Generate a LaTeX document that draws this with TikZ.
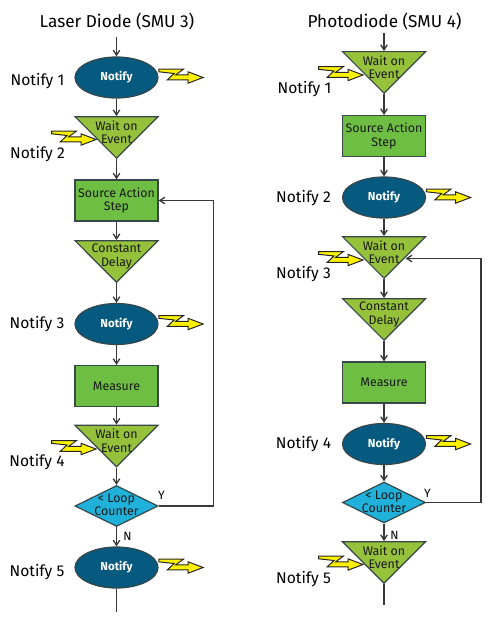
\documentclass[tikz,border=0pt]{standalone}
\usepackage{fontspec}
\setmainfont{Fira Sans}
\usepackage{xcolor}
\usetikzlibrary{positioning,arrows.meta,shapes.geometric,calc}
\definecolor{notifyblue}{HTML}{06597F}
\definecolor{waitgreen}{HTML}{96C13B}
\definecolor{stepgreen}{HTML}{6FBE44}
\definecolor{loopblue}{HTML}{1FB1D9}
\definecolor{edgegray}{HTML}{37474A}

\begin{document}
\begin{tikzpicture}[x=1pt,y=-1pt,>=Latex,line width=1.2pt,
  font=\fontsize{12.4}{13.4}\selectfont,
  flow/.style={draw=black!78,line width=1.3pt,-{Straight Barb[length=5pt,width=6.5pt]}},
  coltitle/.style={font=\fontsize{17.2}{18}\selectfont,inner sep=0pt},
  tag/.style={font=\fontsize{15.6}{18}\selectfont,inner sep=0pt},
  small/.style={font=\fontsize{12}{12}\selectfont,inner sep=0pt},
  notifybox/.style={ellipse,draw=edgegray,fill=notifyblue,text=white,font=\fontsize{11.5}{14}\selectfont\bfseries,minimum width=83pt,minimum height=41pt,inner sep=0pt},
  stepbox/.style={rectangle,draw=edgegray,fill=stepgreen,text=black!90,align=center,minimum width=83pt,minimum height=41pt,inner sep=0pt},
  inner/.style={text=black!90,align=center,inner sep=0pt},
  waitbox/.style={isosceles triangle,isosceles triangle apex angle=90,shape border rotate=-90,draw=edgegray,fill=waitgreen,minimum width=83pt,minimum height=41pt,inner sep=0pt,anchor=apex,
    label={[inner,yshift=1.5pt]center:{#1}}},
  loopbox/.style={diamond,draw=edgegray,fill=loopblue,minimum width=83pt,minimum height=41pt,inner sep=0pt,
    label={[inner,yshift=1pt]center:{#1}}},
  bolt/.pic={\draw[draw=black!85,fill=yellow,line width=1pt,line join=miter]
    (-44.3,-8.3) -- (-19.7,-8.3) -- (-27.3,-2.7) -- (-15,-2.7) -- (-15,-5.7) -- (0,0)
    -- (-15,5.7) -- (-15,2.3) -- (-35.7,2.3) -- (-29,-4) -- (-44.3,-5.7) -- cycle;}]
\useasboundingbox (0,0) rectangle (491,626);
% laser diode side
\node[coltitle] (ltitle) at (117,21) {Laser Diode (SMU 3)};
\coordinate (lstart) at (116.5,37);
\node[notifybox] (ln1) at (116.5,77.5) {Notify};
\node[waitbox={Wait on\\Event}] (lw1) at (116.5,159) {};
\node[stepbox] (ls1) at (116.5,200.5) {Source Action\\Step};
\node[waitbox={Constant\\Delay}] (ld1) at (116.5,283) {};
\node[notifybox] (ln2) at (116.5,324) {Notify};
\node[stepbox] (lm1) at (116.5,386) {Measure};
\node[waitbox={Wait on\\Event}] (lw2) at (116.5,467.5) {};
\node[loopbox={< Loop\\Counter}] (ll1) at (116.5,506) {};
\node[notifybox] (ln3) at (116.5,567.5) {Notify};
\coordinate (lend) at (116.5,612);
\node[tag] (lt1) at (37.5,81) {Notify 1};
\node[tag] (lt2) at (37.5,154) {Notify 2};
\node[tag] (lt3) at (37,324) {Notify 3};
\node[tag] (lt4) at (37,462) {Notify 4};
\node[tag] (lt5) at (37,572) {Notify 5};
\node[small] (ly) at (161.5,495) {Y};
\node[small] (ln) at (127.5,536.5) {N};
\draw[flow] (lstart) -- (ln1);
\draw[flow] (ln1) -- (lw1);
\draw[flow] (lw1.apex) -- (ls1);
\draw[flow] (ls1) -- (ld1);
\draw[flow] (ld1.apex) -- (ln2);
\draw[flow] (ln2) -- (lm1);
\draw[flow] (lm1) -- (lw2);
\draw[flow] (lw2.apex) -- (ll1);
\draw[flow] (ll1) -- (ln3);
\draw[draw=black!78,line width=1.3pt] (ln3) -- (lend);
\draw[flow] (ll1.east) -- ++(55,0) |- (ls1.east);
\pic at ($(ln1.east)+(44.5,0)$) {bolt};
\pic at (96,139.5) {bolt};
\pic at ($(ln2.east)+(44.5,0)$) {bolt};
\pic at (96,449) {bolt};
\pic at ($(ln3.east)+(44.5,0)$) {bolt};
% photodiode side
\node[coltitle] (rtitle) at (384.5,21) {Photodiode (SMU 4)};
\coordinate (rstart) at (384,33);
\node[waitbox={Wait on\\Event}] (rw1) at (384,94) {};
\node[stepbox] (rs1) at (384,136) {Source Action\\Step};
\node[notifybox] (rn1) at (384,197.5) {Notify};
\node[waitbox={Wait on\\Event}] (rw2) at (384,279) {};
\node[waitbox={Constant\\Delay}] (rd1) at (384,341) {};
\node[stepbox] (rm1) at (384,382.5) {Measure};
\node[notifybox] (rn2) at (384,444) {Notify};
\node[loopbox={< Loop\\Counter}] (rl1) at (384,502.5) {};
\node[waitbox={Wait on\\Event}] (rw3) at (384,584) {};
\coordinate (rend) at (384,605);
\coordinate (rback) at (405.7,258.5);
\node[tag] (rt1) at (304.5,89.5) {Notify 1};
\node[tag] (rt2) at (303.5,198) {Notify 2};
\node[tag] (rt3) at (303.5,274.5) {Notify 3};
\node[tag] (rt4) at (303.5,444) {Notify 4};
\node[tag] (rt5) at (303.5,579.5) {Notify 5};
\node[small] (ry) at (427.5,493.5) {Y};
\node[small] (rn) at (394.5,535) {N};
\draw[flow] (rstart) -- (rw1);
\draw[flow] (rw1.apex) -- (rs1);
\draw[flow] (rs1) -- (rn1);
\draw[flow] (rn1) -- (rw2);
\draw[flow] (rw2.apex) -- (rd1);
\draw[flow] (rd1.apex) -- (rm1);
\draw[flow] (rm1) -- (rn2);
\draw[flow] (rn2) -- (rl1);
\draw[flow] (rl1) -- (rw3);
\draw[draw=black!78,line width=1.3pt] (rw3.apex) -- (rend);
\draw[flow] (rl1.east) -- ++(55,0) |- (rback);
\pic at (363,75) {bolt};
\pic at ($(rn1.east)+(44.5,0)$) {bolt};
\pic at (363,260) {bolt};
\pic at ($(rn2.east)+(44.5,0)$) {bolt};
\pic at (363,564.5) {bolt};
\end{tikzpicture}
\end{document}
